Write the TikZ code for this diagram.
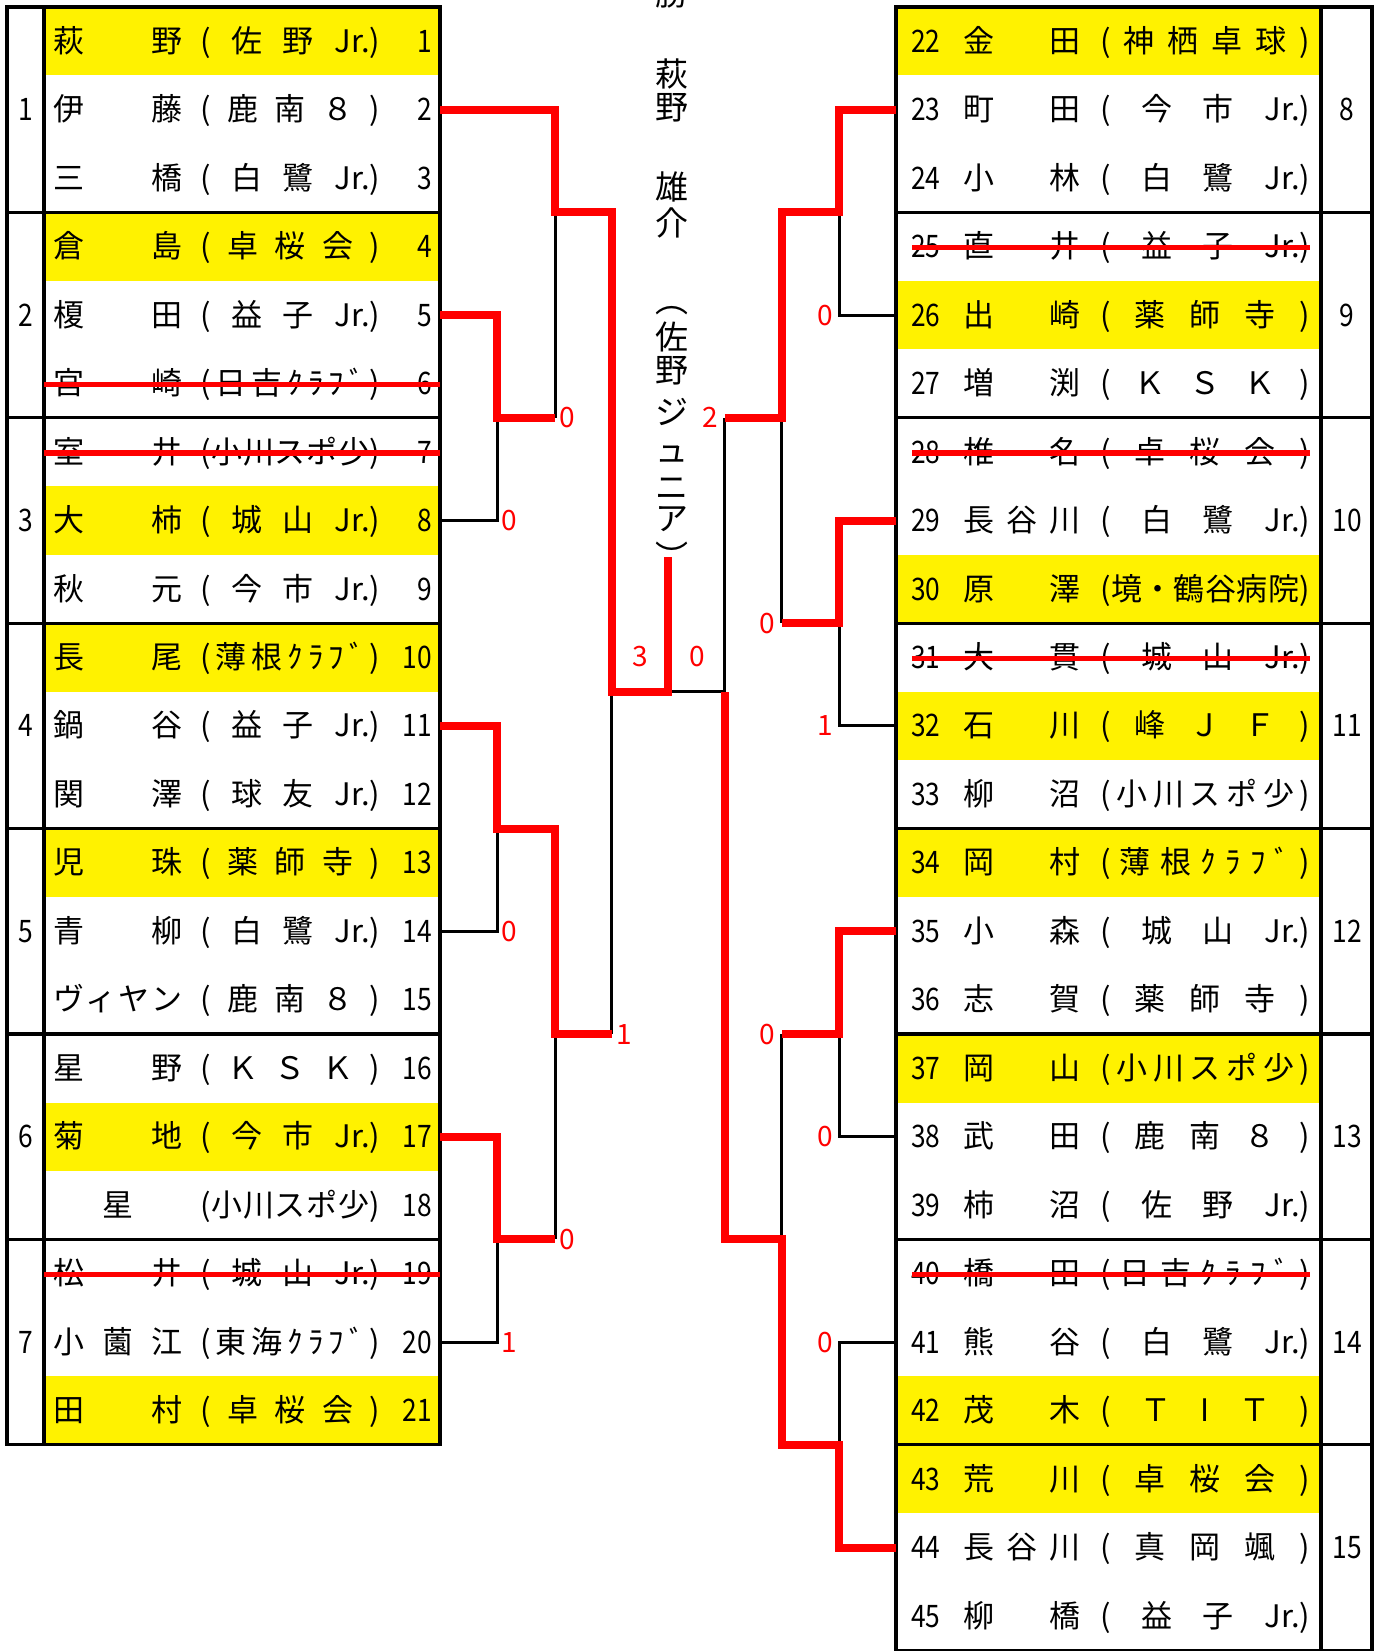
\documentclass[tikz,border=0pt]{standalone}
\usepackage{fontspec}
\setmainfont{Noto Sans CJK JP}
\usepackage{graphicx}
\newcommand\hf{\hfil}
\newcommand\numf[1]{\scalebox{0.85}[1]{#1}}
\tikzset{
  txt/.style={inner sep=0pt, font=\fontsize{31}{31}\selectfont},
  win/.style={draw=red, line width=8pt, line join=miter},
  lose/.style={draw=black, line width=3pt},
  frame/.style={draw=black, line width=3.2pt},
  strike/.style={draw=red, line width=5.5pt},
  score/.style={text=red, inner sep=0pt, font=\fontsize{28}{28}\selectfont},
  vtxt/.style={inner sep=0pt, font=\fontsize{33}{33}\selectfont},
}
\newcommand\Lrow[4]{%
  \pgfmathsetmacro\yc{7+(#1-0.5)*68.47}%
  \pgfmathsetmacro\yy{\yc+11}%
  \coordinate (Le#1) at (440,\yc);
  \node[txt,anchor=base west] (ln#1) at (53,\yy) {\hbox to 129pt{#2}};
  \node[txt,anchor=base west] (lt#1) at (200,\yy) {\hbox to 180pt{#3}};
  \node[txt,anchor=base east] (lnum#1) at (432,\yy) {\numf{#4}};
}
\newcommand\Rrow[4]{%
  \pgfmathsetmacro\yc{7+(#1-0.5)*68.47}%
  \pgfmathsetmacro\yy{\yc+11}%
  \coordinate (Re#1) at (896,\yc);
  \node[txt,anchor=base west] (rnum#1) at (911,\yy) {\numf{#4}};
  \node[txt,anchor=base west] (rn#1) at (963,\yy) {\hbox to 117pt{#2}};
  \node[txt,anchor=base west] (rt#1) at (1100,\yy) {\hbox to 210pt{#3}};
}
\newcommand\Lyel[1]{\fill[yellow] (44,{7+(#1-1)*68.47}) rectangle (440,{7+#1*68.47});}
\newcommand\Ryel[1]{\fill[yellow] (896,{7+(#1-1)*68.47}) rectangle (1321,{7+#1*68.47});}
\newcommand\Lstrike[1]{\draw[strike] (44,{7+(#1-0.5)*68.47+1}) -- (440,{7+(#1-0.5)*68.47+1});}
\newcommand\Rstrike[1]{\draw[strike] (912,{7+(#1-0.5)*68.47+1}) -- (1310,{7+(#1-0.5)*68.47+1});}
\begin{document}
\begin{tikzpicture}[x=1pt,y=-1pt]
\useasboundingbox (0,0) rectangle (1380,1651);
\fill[white] (0,0) rectangle (1380,1651);
% yellow rows
\foreach \k in {1,4,8,10,13,17,21} {\Lyel{\k}}
\foreach \k in {1,5,9,11,13,16,21,22} {\Ryel{\k}}
% left rows
\Lrow{1}{萩\hf 野}{(\hf 佐\hf 野\hf Jr.)}{1}
\Lrow{2}{伊\hf 藤}{(\hf 鹿\hf 南\hf ８\hf )}{2}
\Lrow{3}{三\hf 橋}{(\hf 白\hf 鷺\hf Jr.)}{3}
\Lrow{4}{倉\hf 島}{(\hf 卓\hf 桜\hf 会\hf )}{4}
\Lrow{5}{榎\hf 田}{(\hf 益\hf 子\hf Jr.)}{5}
\Lrow{6}{宮\hf 崎}{(\hf 日\hf 吉\hf ｸ\hf ﾗ\hf ﾌ\hf ﾞ\hf )}{6}
\Lrow{7}{室\hf 井}{(\hf 小\hf 川\hf ス\hf ポ\hf 少\hf )}{7}
\Lrow{8}{大\hf 柿}{(\hf 城\hf 山\hf Jr.)}{8}
\Lrow{9}{秋\hf 元}{(\hf 今\hf 市\hf Jr.)}{9}
\Lrow{10}{長\hf 尾}{(\hf 薄\hf 根\hf ｸ\hf ﾗ\hf ﾌ\hf ﾞ\hf )}{10}
\Lrow{11}{鍋\hf 谷}{(\hf 益\hf 子\hf Jr.)}{11}
\Lrow{12}{関\hf 澤}{(\hf 球\hf 友\hf Jr.)}{12}
\Lrow{13}{児\hf 珠}{(\hf 薬\hf 師\hf 寺\hf )}{13}
\Lrow{14}{青\hf 柳}{(\hf 白\hf 鷺\hf Jr.)}{14}
\Lrow{15}{ヴ\hf ィ\hf ヤ\hf ン}{(\hf 鹿\hf 南\hf ８\hf )}{15}
\Lrow{16}{星\hf 野}{(\hf Ｋ\hf Ｓ\hf Ｋ\hf )}{16}
\Lrow{17}{菊\hf 地}{(\hf 今\hf 市\hf Jr.)}{17}
\Lrow{18}{\hf 星\hf}{(\hf 小\hf 川\hf ス\hf ポ\hf 少\hf )}{18}
\Lrow{19}{松\hf 井}{(\hf 城\hf 山\hf Jr.)}{19}
\Lrow{20}{小\hf 薗\hf 江}{(\hf 東\hf 海\hf ｸ\hf ﾗ\hf ﾌ\hf ﾞ\hf )}{20}
\Lrow{21}{田\hf 村}{(\hf 卓\hf 桜\hf 会\hf )}{21}
% right rows
\Rrow{1}{金\hf 田}{(\hf 神\hf 栖\hf 卓\hf 球\hf )}{22}
\Rrow{2}{町\hf 田}{(\hf 今\hf 市\hf Jr.)}{23}
\Rrow{3}{小\hf 林}{(\hf 白\hf 鷺\hf Jr.)}{24}
\Rrow{4}{直\hf 井}{(\hf 益\hf 子\hf Jr.)}{25}
\Rrow{5}{出\hf 崎}{(\hf 薬\hf 師\hf 寺\hf )}{26}
\Rrow{6}{増\hf 渕}{(\hf Ｋ\hf Ｓ\hf Ｋ\hf )}{27}
\Rrow{7}{椎\hf 名}{(\hf 卓\hf 桜\hf 会\hf )}{28}
\Rrow{8}{長\hf 谷\hf 川}{(\hf 白\hf 鷺\hf Jr.)}{29}
\Rrow{9}{原\hf 澤}{(\hf 境\hf ・\hf 鶴\hf 谷\hf 病\hf 院\hf )}{30}
\Rrow{10}{大\hf 貫}{(\hf 城\hf 山\hf Jr.)}{31}
\Rrow{11}{石\hf 川}{(\hf 峰\hf Ｊ\hf Ｆ\hf )}{32}
\Rrow{12}{柳\hf 沼}{(\hf 小\hf 川\hf ス\hf ポ\hf 少\hf )}{33}
\Rrow{13}{岡\hf 村}{(\hf 薄\hf 根\hf ｸ\hf ﾗ\hf ﾌ\hf ﾞ\hf )}{34}
\Rrow{14}{小\hf 森}{(\hf 城\hf 山\hf Jr.)}{35}
\Rrow{15}{志\hf 賀}{(\hf 薬\hf 師\hf 寺\hf )}{36}
\Rrow{16}{岡\hf 山}{(\hf 小\hf 川\hf ス\hf ポ\hf 少\hf )}{37}
\Rrow{17}{武\hf 田}{(\hf 鹿\hf 南\hf ８\hf )}{38}
\Rrow{18}{柿\hf 沼}{(\hf 佐\hf 野\hf Jr.)}{39}
\Rrow{19}{橋\hf 田}{(\hf 日\hf 吉\hf ｸ\hf ﾗ\hf ﾌ\hf ﾞ\hf )}{40}
\Rrow{20}{熊\hf 谷}{(\hf 白\hf 鷺\hf Jr.)}{41}
\Rrow{21}{茂\hf 木}{(\hf Ｔ\hf I\hf Ｔ\hf )}{42}
\Rrow{22}{荒\hf 川}{(\hf 卓\hf 桜\hf 会\hf )}{43}
\Rrow{23}{長\hf 谷\hf 川}{(\hf 真\hf 岡\hf 颯\hf )}{44}
\Rrow{24}{柳\hf 橋}{(\hf 益\hf 子\hf Jr.)}{45}
% block numbers
\foreach \b in {1,...,7} {
  \pgfmathsetmacro\yb{7+(3*\b-1.5)*68.47+11}
  \node[txt,anchor=base] (lb\b) at (25.5,\yb) {\numf{\b}};
}
\foreach \b in {8,...,15} {
  \pgfmathsetmacro\yb{7+(3*(\b-7)-1.5)*68.47+11}
  \node[txt,anchor=base] (rb\b) at (1347,\yb) {\numf{\b}};
}
% frames
\draw[frame] (7,7) rectangle (440,1444.87);
\draw[frame] (44,7) -- (44,1444.87);
\foreach \k in {3,6,...,18} {\draw[frame] (7,{7+\k*68.47}) -- (440,{7+\k*68.47});}
\draw[frame] (896,7) rectangle (1372,1650.3);
\draw[frame] (1321,7) -- (1321,1650.3);
\foreach \k in {3,6,...,21} {\draw[frame] (896,{7+\k*68.47}) -- (1372,{7+\k*68.47});}
% strikes
\foreach \k in {6,7,19} {\Lstrike{\k}}
\foreach \k in {4,7,10,19} {\Rstrike{\k}}
% bracket coordinates (left)
\coordinate (J12) at (555,212.41);
\coordinate (J12b) at (555,417.82);
\coordinate (J23) at (497,417.82);
\coordinate (JL1) at (611.6,691.7);
\coordinate (F) at (668,691.7);
\coordinate (W) at (668,557);
\coordinate (J45) at (497,828.64);
\coordinate (J4567) at (555,1034.05);
\coordinate (JL2) at (611.6,1034.05);
\coordinate (J67) at (497,1239.46);
\coordinate (J67b) at (555,1239.46);
% bracket coordinates (right)
\coordinate (R89) at (839,212.41);
\coordinate (R811) at (781.5,417.82);
\coordinate (R811b) at (724.5,417.82);
\coordinate (R1011) at (839,623.23);
\coordinate (R1011b) at (781.5,623.23);
\coordinate (RS) at (724.5,691.7);
\coordinate (R1213) at (839,1034.05);
\coordinate (R1213b) at (781.5,1034.05);
\coordinate (R1215) at (781.5,1239.46);
\coordinate (R1415) at (839,1444.87);
% losing lines
\draw[lose] (J12) -- (J12b);
\draw[lose] (Le8) -| (J23);
\draw[lose] (JL2) -- (JL1);
\draw[lose] (Le14) -| (J45);
\draw[lose] (J4567) -- (J67b);
\draw[lose] (Le20) -| (J67);
\draw[lose] (F) -- (RS);
\draw[lose] (R811b) -- (RS);
\draw[lose] (Re5) -| (R89);
\draw[lose] (R811) -- (R1011b);
\draw[lose] (Re11) -| (R1011);
\draw[lose] (R1213b) -- (R1215);
\draw[lose] (Re17) -| (R1213);
\draw[lose] (Re20) -| (R1415);
% winning lines
\draw[win] (Le2) -| (J12) -| (JL1) -- (F) -- (W);
\draw[win] (Le5) -| (J23) -- (J12b);
\draw[win] (Le11) -| (J45) -| (J4567) -- (JL2);
\draw[win] (Le17) -| (J67) -- (J67b);
\draw[win] (Re2) -| (R89) -| (R811) -- (R811b);
\draw[win] (Re8) -| (R1011) -- (R1011b);
\draw[win] (Re14) -| (R1213) -- (R1213b);
\draw[win] (Re23) -| (R1415) -| (R1215) -| (RS);
% scores left
\node[score,anchor=west,xshift=4.5pt] (s1) at (J12b) {0};
\node[score,anchor=west,xshift=4.5pt] (s2) at (Le8 -| J23) {0};
\node[score,anchor=west,xshift=4.5pt] (s3) at (Le14 -| J45) {0};
\node[score,anchor=west,xshift=4.5pt] (s4) at (JL2) {1};
\node[score,anchor=west,xshift=4.5pt] (s5) at (J67b) {0};
\node[score,anchor=west,xshift=4.5pt] (s6) at (Le20 -| J67) {1};
\node[score] (s7) at (640,657) {3};
\node[score] (s8) at (697,657) {0};
% scores right
\node[score,anchor=east,xshift=-6pt] (s9) at (R811b) {2};
\node[score,anchor=east,xshift=-6pt] (s10) at (Re5 -| R89) {0};
\node[score,anchor=east,xshift=-6pt] (s11) at (R1011b) {0};
\node[score,anchor=east,xshift=-6pt] (s12) at (Re11 -| R1011) {1};
\node[score,anchor=east,xshift=-6pt] (s13) at (R1213b) {0};
\node[score,anchor=east,xshift=-6pt] (s14) at (Re17 -| R1213) {0};
\node[score,anchor=east,xshift=-6pt] (s15) at (Re20 -| R1415) {0};
% vertical champion text
\node[vtxt] (v0) at (672,-7) {勝};
\node[vtxt] (v1) at (672,73.5) {萩};
\node[vtxt] (v2) at (672,108) {野};
\node[vtxt] (v3) at (672,186.5) {雄};
\node[vtxt] (v4) at (672,223) {介};
\node[vtxt] (v5) at (672,311) {︵};
\node[vtxt] (v6) at (672,337) {佐};
\node[vtxt] (v7) at (672,371) {野};
\node[vtxt] (v8) at (672,412) {ジ};
\node[vtxt] (v9) at (672,454) {ュ};
\node[vtxt] (v10) at (672,489) {ニ};
\node[vtxt] (v11) at (672,519) {ア};
\node[vtxt] (v12) at (672,556) {︶};
\end{tikzpicture}
\end{document}
